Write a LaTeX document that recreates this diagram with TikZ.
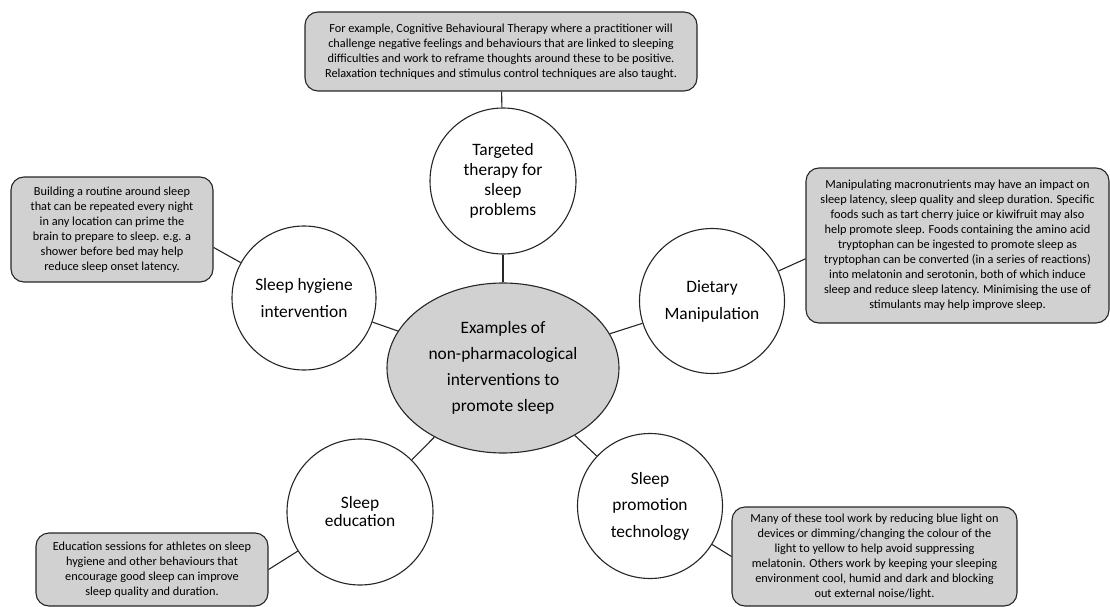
\documentclass[tikz,border=0pt]{standalone}
\usepackage{fontspec}
\setmainfont{Carlito}
\usetikzlibrary{shapes.geometric}
\tikzset{
    hub/.style={ellipse,draw=black!85,line width=1.1pt,fill=black!18,inner sep=0pt,
        minimum width=232pt,minimum height=170pt,align=center,
        font=\fontsize{17.4}{26}\selectfont},
    topic/.style={circle,draw=black!85,line width=1.1pt,fill=white,inner sep=0pt,
        minimum size=145pt,align=center,font=\fontsize{17.4}{#1}\selectfont},
    topic/.default=27,
    note/.style={rectangle,rounded corners=13pt,draw=black!85,line width=1.1pt,
        fill=black!18,inner sep=0pt,align=center,
        font=\fontsize{12.3}{15}\selectfont},
    link/.style={draw=black!85,line width=1.1pt}
}
\begin{document}
\begin{tikzpicture}[x=1pt,y=-1pt]
\useasboundingbox (0,0) rectangle (1110,607);
% centre
\node[hub] (mid) at (503,368) {Examples of\\non-pharmacological\\interventions to\\promote sleep};
% the five interventions
\node[topic=20,minimum size=146pt] (ther) at (503,181) {Targeted\\therapy for\\sleep\\problems};
\node[topic,minimum size=144pt] (hyg) at (304,298) {Sleep hygiene\\intervention};
\node[topic] (diet) at (712,301) {Dietary\\Manipulation};
\node[topic=18,minimum size=146pt] (edu) at (360,512) {Sleep\\education};
\node[topic=26.5] (tech) at (650,506) {Sleep\\promotion\\technology};
% notes
\node[note,minimum width=392pt,minimum height=79pt] (therbox) at (501,51.5)
    {For example, Cognitive Behavioural Therapy where a practitioner will\\
     challenge negative feelings and behaviours that are linked to sleeping\\
     difficulties and work to reframe thoughts around these to be positive.\\
     Relaxation techniques and stimulus control techniques are also taught.};
\node[note,minimum width=202pt,minimum height=105pt] (hygbox) at (112,229.5)
    {Building a routine around sleep\\that can be repeated every night\\
     in any location can prime the\\brain to prepare to sleep. e.g. a\\
     shower before bed may help\\reduce sleep onset latency.};
\node[note,minimum width=303pt,minimum height=155pt] (dietbox) at (957.5,245.5)
    {Manipulating macronutrients may have an impact on\\
     sleep latency, sleep quality and sleep duration. Specific\\
     foods such as tart cherry juice or kiwifruit may also\\
     help promote sleep. Foods containing the amino acid\\
     tryptophan can be ingested to promote sleep as\\
     tryptophan can be converted (in a series of reactions)\\
     into melatonin and serotonin, both of which induce\\
     sleep and reduce sleep latency. Minimising the use of\\
     stimulants may help improve sleep.};
\node[note,minimum width=232pt,minimum height=73pt] (edubox) at (152,569.5)
    {Education sessions for athletes on sleep\\hygiene and other behaviours that\\
     encourage good sleep can improve\\sleep quality and duration.};
\node[note,minimum width=285pt,minimum height=99pt] (techbox) at (874.5,556.5)
    {Many of these tool work by reducing blue light on\\
     devices or dimming/changing the colour of the\\
     light to yellow to help avoid suppressing\\
     melatonin. Others work by keeping your sleeping\\
     environment cool, humid and dark and blocking\\
     out external noise/light.};
% connectors
\foreach \t in {ther,hyg,diet,edu,tech}
{
    \draw[link] (mid)--(\t);
}
\draw[link] (therbox)--(ther);
\draw[link] (hygbox.-10)--(hyg);
\draw[link] (diet)--(dietbox.185);
\draw[link] (edubox.east)--(edu);
\draw[link] (tech)--(techbox.west);
\end{tikzpicture}
\end{document}
